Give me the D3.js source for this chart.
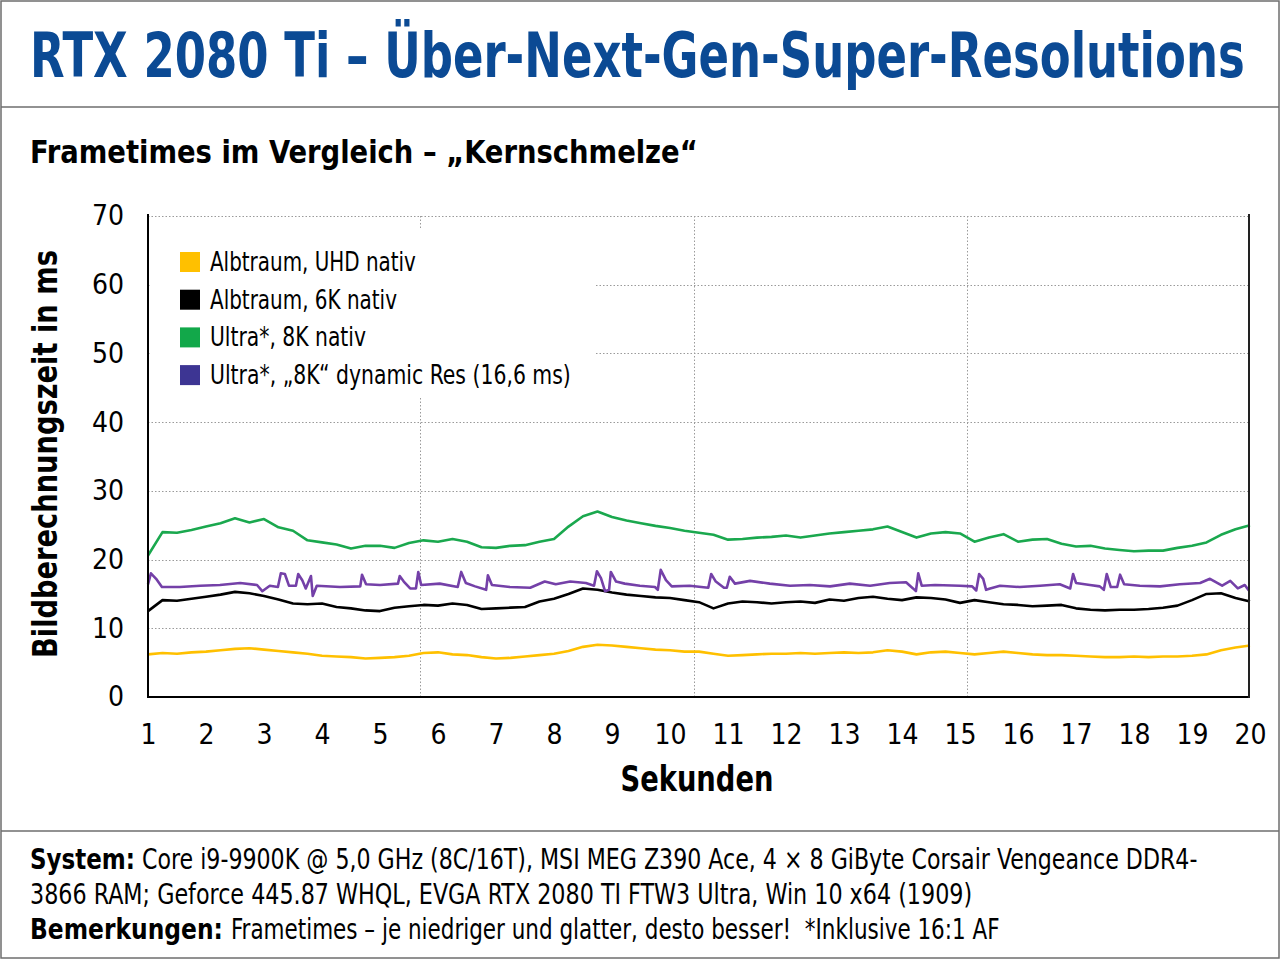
<!DOCTYPE html>
<html>
<head>
<meta charset="utf-8">
<script src="https://cdn.jsdelivr.net/npm/d3@7/dist/d3.min.js"></script>
<style>
  body { margin: 0; background: #fff; }
  svg { display: block; }
  text { font-family: "Liberation Sans Narrow", "DejaVu Sans Condensed", "Open Sans", sans-serif; }
</style>
</head>
<body>
<svg width="1280" height="960"></svg>
<script>
(function () {
  var seriesNames = ['Albtraum, UHD nativ', 'Albtraum, 6K nativ', 'Ultra*, 8K nativ', 'Ultra*, \u201E8K\u201C dynamic Res (16,6 ms)'];
  var lineColors = ['#ffc000', '#000000', '#1aa84e', '#7440a8'];
  var legendColors = ['#ffc000', '#000000', '#12a84a', '#3d3593'];
  var xTicks = d3.range(1, 21);
  var yTicks = [0, 10, 20, 30, 40, 50, 60, 70];
  var xGrid = [5.69, 10.41, 15.12];

  // shared time grid (seconds) for the three smooth series
  var times = d3.range(1, 20.001, 0.25);

  var uhd = [6.2, 6.4, 6.3, 6.5, 6.6, 6.8, 7.0, 7.1, 6.9, 6.7, 6.5, 6.3, 6.0, 5.9, 5.8, 5.6, 5.7, 5.8, 6.0, 6.4,
    6.5, 6.2, 6.1, 5.8, 5.6, 5.7, 5.9, 6.1, 6.3, 6.7, 7.3, 7.6, 7.5, 7.3, 7.1, 6.9, 6.8, 6.6, 6.6, 6.3,
    6.0, 6.1, 6.2, 6.3, 6.3, 6.4, 6.3, 6.4, 6.5, 6.4, 6.5, 6.8, 6.6, 6.2, 6.5, 6.6, 6.4, 6.2, 6.4, 6.6,
    6.4, 6.2, 6.1, 6.1, 6.0, 5.9, 5.8, 5.8, 5.9, 5.8, 5.9, 5.9, 6.0, 6.2, 6.8, 7.2, 7.5];

  var k6 = [12.5, 14.1, 14.0, 14.3, 14.6, 14.9, 15.3, 15.1, 14.7, 14.2, 13.6, 13.5, 13.6, 13.1, 12.9, 12.6, 12.5, 13.0, 13.2, 13.4,
    13.3, 13.6, 13.4, 12.8, 12.9, 13.0, 13.1, 13.9, 14.3, 15.0, 15.8, 15.6, 15.2, 14.9, 14.7, 14.5, 14.4, 14.1, 13.8, 12.9,
    13.6, 13.9, 13.8, 13.6, 13.8, 13.9, 13.7, 14.2, 14.0, 14.4, 14.6, 14.3, 14.1, 14.5, 14.4, 14.2, 13.7, 14.1, 13.8, 13.5,
    13.4, 13.2, 13.3, 13.4, 12.9, 12.7, 12.6, 12.7, 12.7, 12.8, 13.0, 13.3, 14.1, 15.0, 15.1, 14.4, 13.9];

  var k8 = [20.6, 24.0, 23.9, 24.3, 24.8, 25.3, 26.0, 25.4, 25.9, 24.7, 24.2, 22.8, 22.5, 22.2, 21.6, 22.0, 22.0, 21.7, 22.4, 22.8,
    22.6, 23.0, 22.6, 21.8, 21.7, 22.0, 22.1, 22.6, 23.0, 24.8, 26.3, 27.0, 26.2, 25.7, 25.3, 24.9, 24.6, 24.2, 23.9, 23.6,
    22.9, 23.0, 23.2, 23.3, 23.5, 23.2, 23.5, 23.8, 24.0, 24.2, 24.4, 24.8, 24.0, 23.2, 23.8, 24.0, 23.8, 22.6, 23.2, 23.7,
    22.6, 22.9, 23.0, 22.3, 21.9, 22.0, 21.6, 21.4, 21.2, 21.3, 21.3, 21.7, 22.0, 22.5, 23.6, 24.4, 25.0];

  // dynamic res series has its own times to keep the narrow spikes
  var dynTimes = [1.0, 1.05, 1.14, 1.24, 1.55, 1.9, 2.24, 2.59, 2.88, 2.97, 3.1, 3.24, 3.29, 3.36, 3.43, 3.55, 3.59, 3.66, 3.72, 3.81,
    3.84, 3.91, 4.31, 4.66, 4.69, 4.76, 5.0, 5.31, 5.34, 5.41, 5.52, 5.62, 5.66, 5.71, 6.03, 6.34, 6.40, 6.48, 6.64, 6.83,
    6.86, 6.93, 7.24, 7.59, 7.84, 8.03, 8.28, 8.55, 8.69, 8.74, 8.81, 8.88, 8.95, 8.98, 9.07, 9.22, 9.48, 9.74, 9.79, 9.84,
    9.93, 10.03, 10.34, 10.66, 10.71, 10.79, 10.93, 10.98, 11.03, 11.12, 11.38, 11.72, 12.07, 12.41, 12.76, 13.1, 13.45, 13.79, 14.07, 14.19,
    14.24, 14.28, 14.34, 14.57, 15.0, 15.21, 15.28, 15.33, 15.40, 15.45, 15.52, 15.69, 16.03, 16.38, 16.72, 16.90, 16.95, 17.0, 17.24, 17.41,
    17.48, 17.53, 17.60, 17.71, 17.76, 17.83, 18.1, 18.45, 18.79, 19.14, 19.31, 19.52, 19.66, 19.79, 19.91, 19.98];
  var dyn = [16.4, 18.0, 17.2, 16.0, 16.0, 16.2, 16.3, 16.6, 16.3, 15.4, 16.2, 16.0, 18.0, 17.9, 16.2, 16.2, 17.9, 17.0, 15.8, 17.6,
    14.7, 16.2, 16.0, 16.1, 17.8, 16.4, 16.3, 16.5, 17.6, 16.8, 15.8, 15.8, 18.2, 16.3, 16.5, 16.0, 18.2, 16.6, 16.1, 15.6,
    17.7, 16.3, 16.0, 15.9, 16.8, 16.4, 16.8, 16.6, 16.2, 18.3, 17.3, 15.4, 15.6, 18.2, 16.8, 16.5, 16.2, 16.0, 15.6, 18.5,
    17.0, 16.1, 16.2, 15.9, 17.9, 16.8, 15.9, 15.9, 17.5, 16.5, 16.9, 16.5, 16.2, 16.3, 16.1, 16.5, 16.2, 16.6, 16.7, 15.8,
    15.4, 18.0, 16.2, 16.3, 16.2, 16.1, 15.5, 17.9, 17.2, 15.6, 15.8, 16.2, 16.0, 16.2, 16.4, 15.8, 17.9, 16.6, 16.3, 16.1,
    15.6, 17.9, 16.0, 16.0, 17.8, 16.4, 16.2, 16.1, 16.4, 16.6, 17.2, 16.2, 16.9, 15.8, 16.3, 15.5];

  var series = [
    { t: times, v: uhd },
    { t: times, v: k6 },
    { t: times, v: k8 },
    { t: dynTimes, v: dyn }
  ];

  var svg = d3.select('svg');

  var x = d3.scaleLinear().domain([1, 20]).range([148, 1250]);
  var y = d3.scaleLinear().domain([0, 70]).range([697, 216]);

  // squeeze a text horizontally to a target width (condensed look)
  function fit(sel, x0, y0, w, anchor) {
    var n = sel.node();
    var len = n.getComputedTextLength();
    var s = Math.min(1, w / len);
    var dx = anchor === 'middle' ? x0 - len * s / 2 : x0;
    sel.attr('x', 0).attr('y', 0)
      .attr('transform', `translate(${dx},${y0}) scale(${s},1)`);
    return sel;
  }

  // frame and separators
  svg.append('rect')
    .attr('x', 1).attr('y', 1).attr('width', 1278).attr('height', 957)
    .attr('fill', 'none').attr('stroke', '#6e6e6e').attr('stroke-width', 1.5);
  svg.append('line').attr('x1', 1).attr('x2', 1279).attr('y1', 107).attr('y2', 107)
    .attr('stroke', '#6e6e6e').attr('stroke-width', 1.5);
  svg.append('line').attr('x1', 1).attr('x2', 1279).attr('y1', 831).attr('y2', 831)
    .attr('stroke', '#6e6e6e').attr('stroke-width', 1.5);

  fit(svg.append('text')
    .attr('font-size', 62).attr('font-weight', 'bold').attr('fill', '#0b4a94')
    .text('RTX 2080 Ti \u2013 \u00DCber-Next-Gen-Super-Resolutions'), 30, 77, 1215);

  fit(svg.append('text')
    .attr('font-size', 32).attr('font-weight', 'bold').attr('fill', '#000')
    .text('Frametimes im Vergleich \u2013 \u201EKernschmelze\u201C'), 30, 163, 668);

  // grid
  var grid = svg.append('g')
    .attr('stroke', '#9a9a9a').attr('stroke-width', 1).attr('stroke-dasharray', '1.5,2');
  grid.selectAll('.hy').data(yTicks.filter(d => d > 0)).enter().append('line')
    .attr('x1', x(1)).attr('x2', 1249)
    .attr('y1', d => Math.round(y(d)) + 0.5).attr('y2', d => Math.round(y(d)) + 0.5);
  grid.selectAll('.vx').data(xGrid).enter().append('line')
    .attr('x1', d => Math.round(x(d)) + 0.5).attr('x2', d => Math.round(x(d)) + 0.5)
    .attr('y1', y(70)).attr('y2', y(0));

  // legend background hides the grid
  svg.append('rect')
    .attr('x', 151).attr('y', 228).attr('width', 444).attr('height', 170)
    .attr('fill', '#fff');

  var line = d3.line().x(d => x(d[0])).y(d => y(d[1]));

  svg.append('g').selectAll('path')
    .data(series)
    .enter()
    .append('path')
    .attr('fill', 'none')
    .attr('stroke', (d, i) => lineColors[i])
    .attr('stroke-width', 2.6)
    .attr('stroke-linejoin', 'round')
    .attr('d', d => line(d.v.map((v, i) => [d.t[i], v])));

  // axes
  svg.append('line').attr('x1', 148).attr('x2', 148).attr('y1', 214).attr('y2', 698)
    .attr('stroke', '#000').attr('stroke-width', 2);
  svg.append('line').attr('x1', 147).attr('x2', 1250).attr('y1', 697).attr('y2', 697)
    .attr('stroke', '#000').attr('stroke-width', 2);
  svg.append('line').attr('x1', 1249).attr('x2', 1249).attr('y1', 214).attr('y2', 698)
    .attr('stroke', '#222').attr('stroke-width', 2);

  var yAxis = d3.axisLeft(y).tickValues(yTicks).tickSize(0).tickPadding(24);
  svg.append('g')
    .attr('transform', 'translate(148,0)')
    .call(yAxis)
    .call(g => g.select('.domain').remove())
    .selectAll('text')
    .attr('font-size', 28).attr('fill', '#000')
    .attr('font-family', '"Liberation Sans Narrow", "DejaVu Sans Condensed", sans-serif');

  var xAxis = d3.axisBottom(x).tickValues(xTicks).tickSize(0).tickPadding(27).tickFormat(d3.format('d'));
  svg.append('g')
    .attr('transform', 'translate(0,697)')
    .call(xAxis)
    .call(g => g.select('.domain').remove())
    .selectAll('text')
    .attr('font-size', 28).attr('fill', '#000')
    .attr('font-family', '"Liberation Sans Narrow", "DejaVu Sans Condensed", sans-serif');

  fit(svg.append('text')
    .attr('font-size', 35).attr('font-weight', 'bold')
    .text('Sekunden'), 697, 791, 153, 'middle');

  var yl = svg.append('text')
    .attr('text-anchor', 'middle')
    .attr('font-size', 33).attr('font-weight', 'bold')
    .text('Bildberechnungszeit in ms');
  var ylLen = yl.node().getComputedTextLength();
  yl.attr('transform', `translate(57,454) rotate(-90) scale(${Math.min(1, 408 / ylLen)},1)`);

  // legend
  var legendWidths = [206, 187, 156, 361];
  var legend = svg.append('g')
    .selectAll('g')
    .data(seriesNames)
    .enter()
    .append('g')
    .attr('transform', (d, i) => `translate(180,${252 + i * 37.7})`);
  legend.append('rect')
    .attr('width', 20).attr('height', 20)
    .attr('fill', (d, i) => legendColors[i]);
  legend.append('text')
    .attr('font-size', 26)
    .text(d => d)
    .each(function (d, i) { fit(d3.select(this), 30, 19, legendWidths[i]); });

  // footer
  var footer = [
    { b: 'System:', bw: 105, r: 'Core i9-9900K @ 5,0 GHz (8C/16T), MSI MEG Z390 Ace, 4 \u00D7 8 GiByte Corsair Vengeance DDR4-', rx: 142, rw: 1056, y: 869 },
    { b: '', bw: 0, r: '3866 RAM; Geforce 445.87 WHQL, EVGA RTX 2080 TI FTW3 Ultra, Win 10 x64 (1909)', rx: 30, rw: 943, y: 904 },
    { b: 'Bemerkungen:', bw: 193, r: 'Frametimes \u2013 je niedriger und glatter, desto besser!  *Inklusive 16:1 AF', rx: 231, rw: 769, y: 939 }
  ];
  footer.forEach(d => {
    if (d.b) {
      fit(svg.append('text').attr('font-size', 28).attr('font-weight', 'bold').text(d.b), 30, d.y, d.bw);
    }
    fit(svg.append('text').attr('font-size', 28).attr('xml:space', 'preserve').text(d.r), d.rx, d.y, d.rw);
  });
})();
</script>
</body>
</html>
